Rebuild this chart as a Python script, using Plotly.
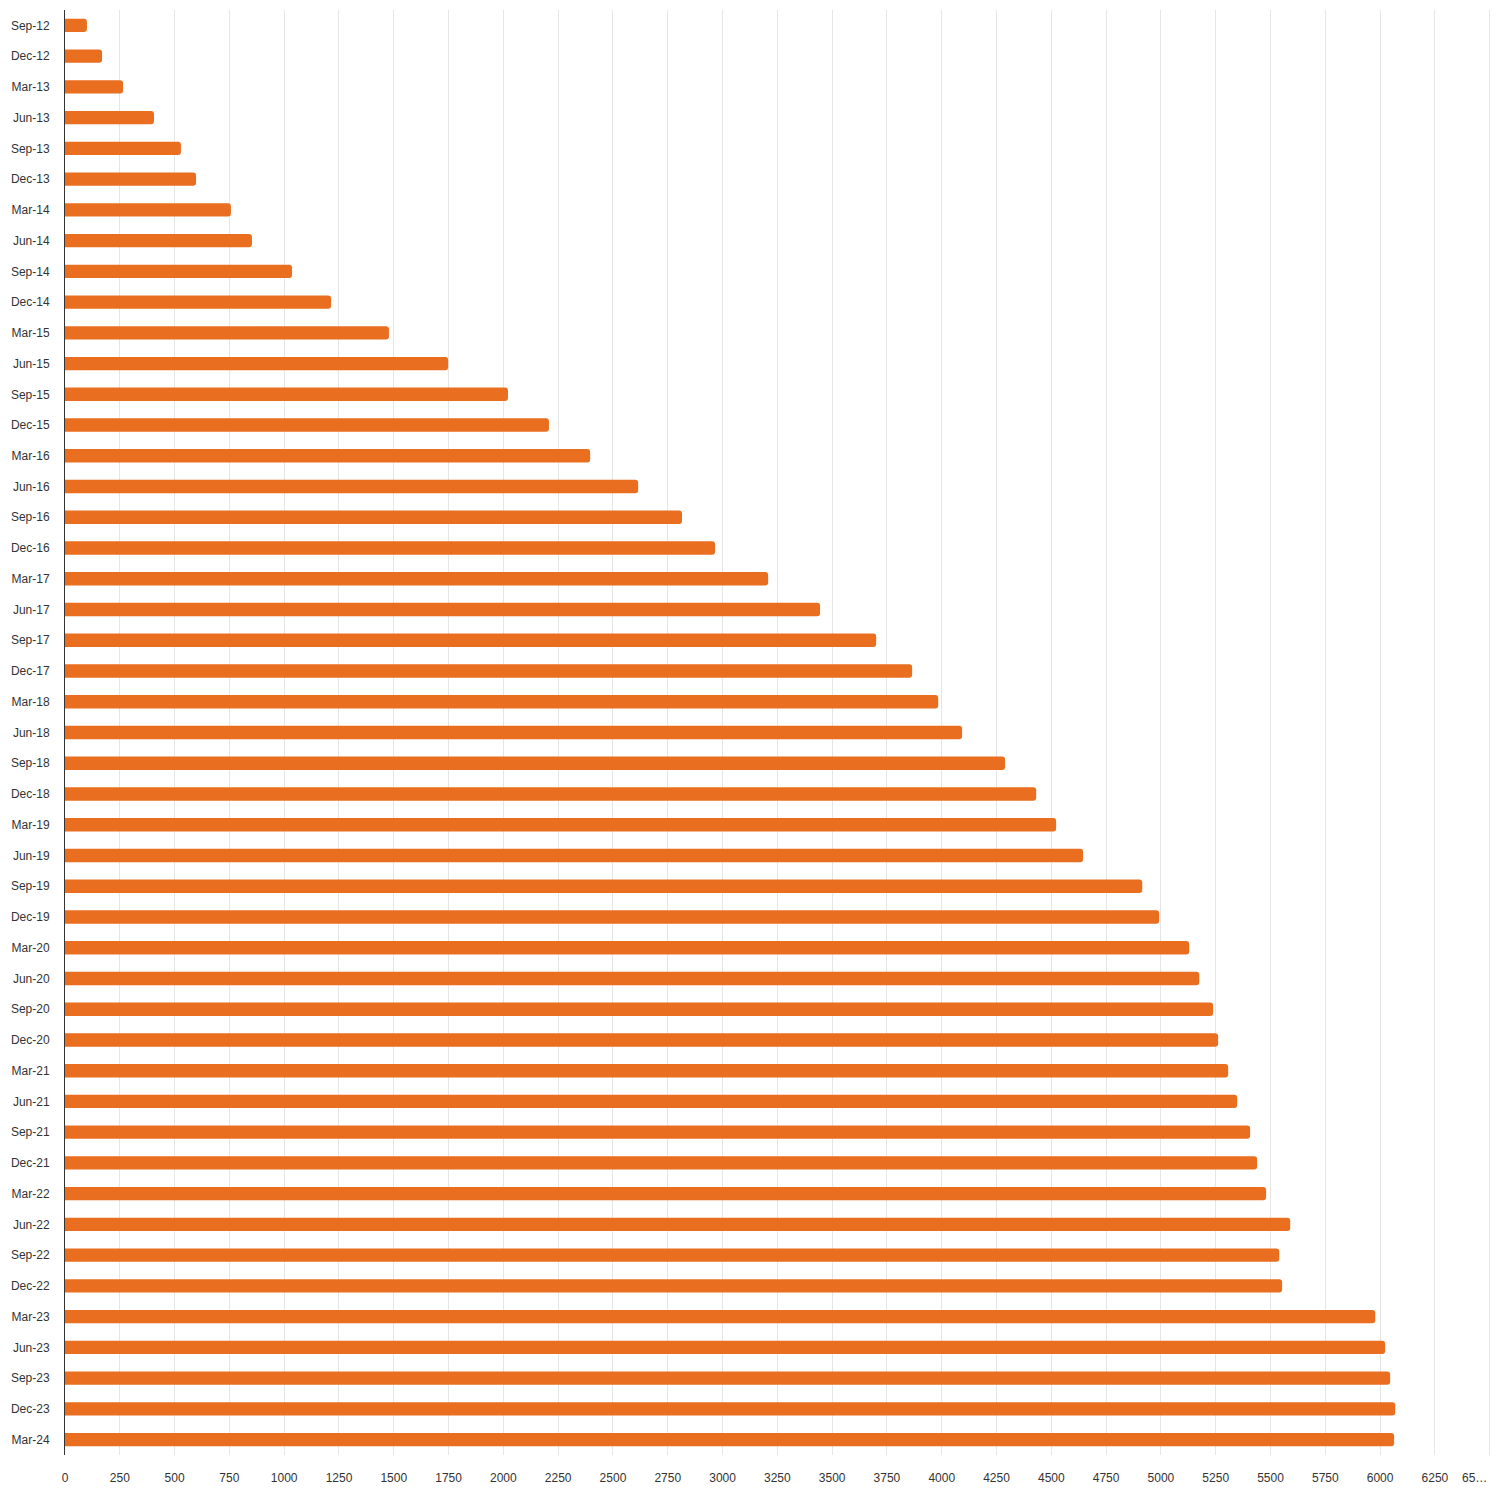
import plotly.graph_objects as go

categories = ["Sep-12","Dec-12","Mar-13","Jun-13","Sep-13","Dec-13","Mar-14","Jun-14","Sep-14","Dec-14",
              "Mar-15","Jun-15","Sep-15","Dec-15","Mar-16","Jun-16","Sep-16","Dec-16","Mar-17","Jun-17",
              "Sep-17","Dec-17","Mar-18","Jun-18","Sep-18","Dec-18","Mar-19","Jun-19","Sep-19","Dec-19",
              "Mar-20","Jun-20","Sep-20","Dec-20","Mar-21","Jun-21","Sep-21","Dec-21","Mar-22","Jun-22",
              "Sep-22","Dec-22","Mar-23","Jun-23","Sep-23","Dec-23","Mar-24"]
values = [100, 169, 265, 406, 529, 598, 757, 853, 1036, 1214,
          1478, 1748, 2021, 2208, 2396, 2615, 2815, 2966, 3208, 3445,
          3701, 3865, 3984, 4093, 4289, 4431, 4522, 4645, 4915, 4992,
          5129, 5175, 5238, 5261, 5307, 5348, 5407, 5439, 5480, 5590,
          5540, 5553, 5978, 6023, 6046, 6069, 6064]
tick_vals = list(range(0, 6501, 250))
tick_text = [str(v) for v in tick_vals[:-1]] + ["65…" + "\u00a0" * 9]

fig = go.Figure(go.Bar(
    x=values, y=categories, orientation="h",
    marker=dict(color="#E96E1F", line=dict(width=0)),
    hoverinfo="x+y",
))
fig.update_layout(
    width=1492, height=1492,
    margin=dict(l=57, r=9, t=2, b=45, autoexpand=False),
    plot_bgcolor="white", paper_bgcolor="white",
    bargap=0.565, barcornerradius=3,
    font=dict(family="Liberation Sans, Arial, sans-serif", size=12, color="#333333"),
    showlegend=False,
)
fig.update_xaxes(range=[0, 6506], tickvals=tick_vals, ticktext=tick_text,
                 showgrid=True, gridcolor="#e6e6e6", gridwidth=1, automargin=False,
                 zeroline=False, showline=False, ticks="", ticklabelstandoff=14,
                 ticklabeloverflow="allow",
                 tickfont=dict(size=12, color="#333333"))
fig.update_yaxes(autorange="reversed", showgrid=False, showline=True, linecolor="#333333",
                 linewidth=1, ticks="", ticklabelstandoff=12, automargin=False,
                 tickfont=dict(size=12, color="#333333"))
fig.write_html("out.html")
